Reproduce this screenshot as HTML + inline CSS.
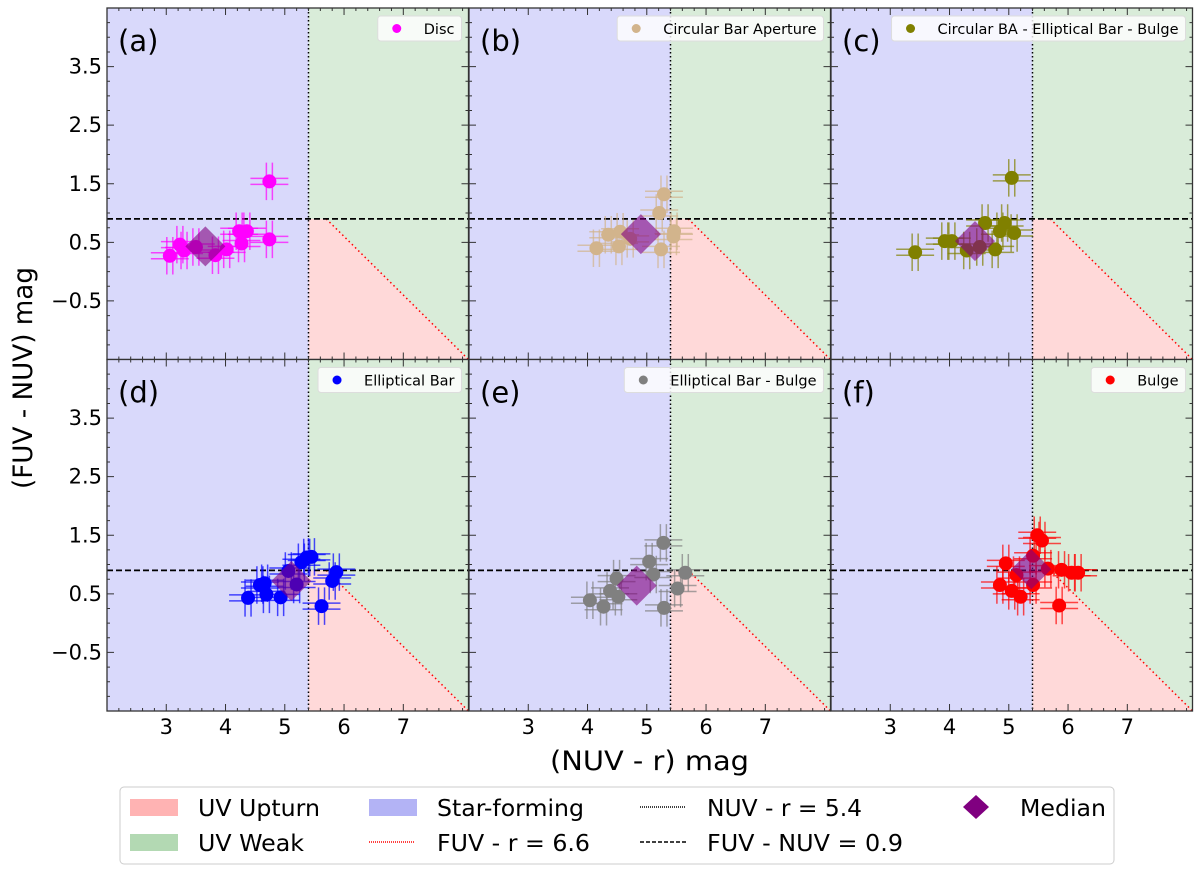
<!DOCTYPE html>
<html><head><meta charset="utf-8">
<style>
body{margin:0;background:#fff;}
svg{display:block;font-family:"DejaVu Sans","Liberation Sans",sans-serif;}
</style></head>
<body>
<svg id="fig" width="1200" height="872" viewBox="0 0 1200 872" xmlns="http://www.w3.org/2000/svg"></svg>
<script>
// ---- data ----
const panelLabels = ["(a)","(b)","(c)","(d)","(e)","(f)"];
const seriesNames = ["Disc","Circular Bar Aperture","Circular BA - Elliptical Bar - Bulge","Elliptical Bar","Elliptical Bar - Bulge","Bulge"];
const seriesColors = ["#ff00ff","#d2b48c","#808000","#0000ff","#808080","#ff0000"];
const discX = [3.06,3.23,3.30,4.02,3.83,4.23,4.36,4.27,4.74,4.74,3.50];
const discY = [0.27,0.46,0.36,0.38,0.28,0.69,0.69,0.48,1.54,0.55,0.42];
const cbaX = [5.29,5.21,5.46,5.45,5.24,4.35,4.15,4.53,4.55,4.72];
const cbaY = [1.32,1.00,0.69,0.60,0.38,0.63,0.40,0.43,0.68,0.56];
const cbebX = [5.05,3.42,3.92,4.04,4.60,4.93,4.85,5.09,4.77,4.29,4.51];
const cbebY = [1.60,0.33,0.52,0.52,0.83,0.83,0.69,0.66,0.38,0.36,0.42];
const ebX = [4.38,4.58,4.66,4.69,4.93,5.06,5.20,5.28,5.37,5.45,5.87,5.80,5.62];
const ebY = [0.43,0.65,0.68,0.49,0.44,0.89,0.66,1.04,1.12,1.13,0.87,0.72,0.29];
const ebbX = [5.28,5.04,5.11,5.65,5.52,5.29,4.49,4.38,4.52,4.04,4.27];
const ebbY = [1.37,1.05,0.83,0.86,0.59,0.26,0.76,0.55,0.45,0.39,0.28];
const bulgeX = [5.48,5.56,5.41,5.66,4.95,5.89,6.06,6.17,4.85,5.05,5.20,5.41,5.85,5.13];
const bulgeY = [1.50,1.41,1.15,0.93,1.02,0.91,0.86,0.86,0.65,0.55,0.45,0.65,0.30,0.82];
const medianX = [3.66,4.90,4.43,5.11,4.83,5.38];
const medianY = [0.43,0.64,0.52,0.72,0.64,0.92];
const xErr = [0.32,0.32,0.32,0.32,0.32,0.32];
const yErr = [0.32,0.32,0.32,0.32,0.32,0.32];
const xTicks = [3,4,5,6,7];
const yTicks = [-0.5,0.5,1.5,2.5,3.5];
const allX = [discX,cbaX,cbebX,ebX,ebbX,bulgeX];
const allY = [discY,cbaY,cbebY,ebY,ebbY,bulgeY];

// ---- layout ----
const NS="http://www.w3.org/2000/svg";
const svg=document.getElementById('fig');
const colL=[107,469,831], colW=361.5;
const rowT=[8,359.5], rowH=351.5;
const XMIN=2, XMAX=8.1, YMIN=-1.5, YMAX=4.5;
function mk(tag,attrs,parent){const e=document.createElementNS(NS,tag);for(const k in attrs)e.setAttribute(k,attrs[k]);(parent||svg).appendChild(e);return e;}

for(let p=0;p<6;p++){
  const c=p%3, r=Math.floor(p/3);
  const L=colL[c], T=rowT[r];
  const sx=v=>L+(v-XMIN)/(XMAX-XMIN)*colW;
  const sy=v=>T+(YMAX-v)/(YMAX-YMIN)*rowH;
  const g=mk('g',{});
  
  
  const cid='clip'+p;
  const cp=mk('clipPath',{id:cid},g); mk('rect',{x:L,y:T,width:colW,height:rowH},cp);
  const inner=mk('g',{'clip-path':'url(#'+cid+')'},g);
  const sf=mk('rect',{x:L,y:T,width:sx(5.4)-L,height:rowH,fill:'#d9d9fb'},inner);
   
  const gw=mk('rect',{x:sx(5.4),y:T,width:L+colW-sx(5.4),height:rowH,fill:'#d9ecd9'},inner);
   
  const pk=mk('polygon',{points:`${sx(5.4)},${sy(0.9)} ${sx(5.7)},${sy(0.9)} ${sx(8.1)},${sy(-1.5)} ${sx(5.4)},${sy(-1.5)}`,fill:'#ffd9d9'},inner);
   
  const rl=mk('line',{x1:sx(5.7),y1:sy(0.9),x2:sx(8.1),y2:sy(-1.5),stroke:'#ff0000','stroke-width':1.5,'stroke-dasharray':'1.5 3'},inner);
   
  const vl=mk('line',{x1:sx(5.4),y1:T,x2:sx(5.4),y2:T+rowH,stroke:'#000','stroke-width':1.5,'stroke-dasharray':'1.5 2.5'},inner);
   
  const hl=mk('line',{x1:L,y1:sy(0.9),x2:L+colW,y2:sy(0.9),stroke:'#000','stroke-width':1.8,'stroke-dasharray':'6 3'},inner);
   
  const col=seriesColors[p], xs=allX[p], ys=allY[p];
  for(let i=0;i<xs.length;i++){
    const x=sx(xs[i]), y=sy(ys[i]);
    const dx=sx(xs[i]+xErr[p])-x, dy=sy(ys[i]-yErr[p])-y;
    const eb=mk('path',{d:`M${x-dx},${y-3}H${x+dx}M${x-dx},${y+3}H${x+dx}M${x-3},${y-dy}V${y+dy}M${x+3},${y-dy}V${y+dy}`,stroke:col,'stroke-width':1.5,fill:'none',opacity:0.7},inner);
     
  }
  for(let i=0;i<xs.length;i++){
    const pt=mk('circle',{cx:sx(xs[i]),cy:sy(ys[i]),r:7,fill:col},inner);
     
  }
  const mx=sx(medianX[p]), my=sy(medianY[p]), d=20;
  const md=mk('polygon',{points:`${mx},${my-d} ${mx+d},${my} ${mx},${my+d} ${mx-d},${my}`,fill:'#800080','fill-opacity':0.6},inner);
   
  mk('rect',{x:L,y:T,width:colW,height:rowH,fill:'none',stroke:'#333','stroke-width':1.3},g);
  let tp='';
  for(let v=2.2;v<8.1;v+=0.2){const x=sx(v);const maj=xTicks.some(t=>Math.abs(t-v)<0.01);const l=maj?7:3;tp+=`M${x},${T+rowH}v${-l}M${x},${T}v${l}`;}
  for(let v=-1.5;v<=4.5;v+=0.25){const y=sy(v);const maj=yTicks.some(t=>Math.abs(t-v)<0.01);const l=maj?7:3;tp+=`M${L},${y}h${l}M${L+colW},${y}h${-l}`;}
  mk('path',{d:tp,stroke:'#333','stroke-width':1,fill:'none'},g);
  if(r===1){xTicks.forEach(t=>{const tx=mk('text',{x:sx(t),y:734,'font-size':21,'text-anchor':'middle',fill:'#000'},g);tx.textContent=t;
     });}
  if(c===0){yTicks.forEach(t=>{const ty=mk('text',{x:102,y:sy(t)+7,'font-size':21,'text-anchor':'end',fill:'#000'},g);ty.textContent=(t<0?'\u2212':'')+Math.abs(t).toFixed(1);
     });}
  const pl=mk('text',{x:L+11,y:T+43,'font-size':29,fill:'#000'},g); pl.textContent=panelLabels[p];
   
  const name=seriesNames[p];
  const lg=mk('g',{},g);
   
  const box=mk('rect',{x:0,y:T+8,width:10,height:25,rx:3,fill:'#fff','fill-opacity':0.8,stroke:'#ddd'},lg);
  const lt=mk('text',{x:L+colW-14,y:T+26,'font-size':14.5,'text-anchor':'end',fill:'#000'},lg); lt.textContent=name;
  const tw=lt.getComputedTextLength();
  const bx=L+colW-14-tw-46;
  box.setAttribute('x',bx); box.setAttribute('width',tw+53);
  mk('circle',{cx:bx+19,cy:T+20.5,r:4.5,fill:col},lg);
}
</script>
<script>
const s=document.getElementById('fig');
function mk2(tag,attrs){const e=document.createElementNS("http://www.w3.org/2000/svg",tag);for(const k in attrs)e.setAttribute(k,attrs[k]);s.appendChild(e);return e;}
const xt=mk2('text',{x:550,y:770,'font-size':27,textLength:199,lengthAdjust:'spacingAndGlyphs'});xt.textContent='(NUV - r) mag';


const yt=mk2('text',{x:0,y:0,'font-size':27,textLength:222,lengthAdjust:'spacingAndGlyphs',transform:'translate(32,489) rotate(-90)'});yt.textContent='(FUV - NUV) mag';


const lb=mk2('rect',{x:120,y:787,width:994,height:77,rx:4,fill:'#fff',stroke:'#ccc'});


const items=[
 ['patch','#ffb3b3',130,807,'UV Upturn',122],['patch','#b3d9b3',130,842,'UV Weak',106],
 ['patch','#b3b3f5',369,807,'Star-forming',147],['dotred','#ff0000',369,842,'FUV - r = 6.6',153],
 ['dot','#000',640,807,'NUV - r = 5.4',155],['dash','#000',640,842,'FUV - NUV = 0.9',196],
 ['diamond','#800080',940,807,'Median',86]];
items.forEach(it=>{
 const [t,c,x,y,label,w]=it;
 if(t==='patch'){mk2('rect',{x:x,y:y-8,width:48,height:17,fill:c});}
 else if(t==='diamond'){mk2('polygon',{points:`${x+36},${y-12} ${x+49},${y} ${x+36},${y+12} ${x+23},${y}`,fill:c});}
 else{mk2('line',{x1:x,y1:y,x2:x+46,y2:y,stroke:c,'stroke-width':1.5,'stroke-dasharray':t==='dash'?'4 2':'1 1'});}
 const tx=mk2('text',{x:(t==='diamond'?x+80:x+(t==='dot'||t==='dash'?67:68)),y:y+9,'font-size':23,textLength:w,lengthAdjust:'spacingAndGlyphs'});tx.textContent=label;
 
 
});
</script>
</body></html>
